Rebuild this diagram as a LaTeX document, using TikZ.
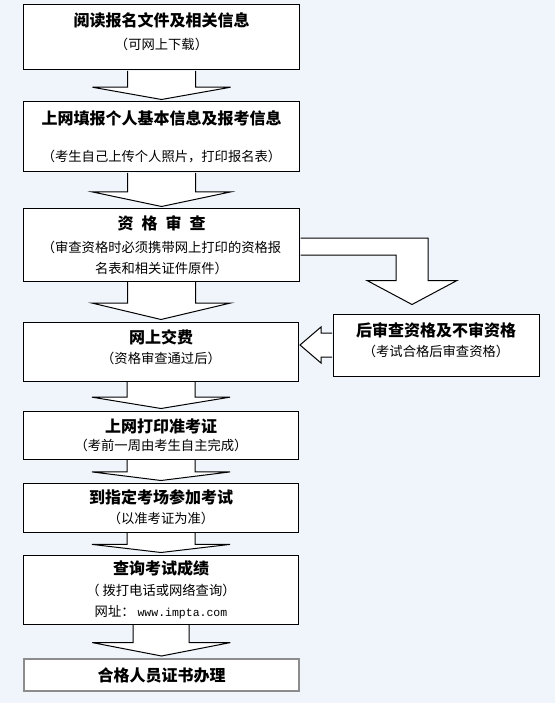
\documentclass[tikz,border=0pt]{standalone}
\usepackage{fontspec}
\setmainfont{Noto Sans CJK SC}
\setmonofont{Liberation Mono}
\usetikzlibrary{calc}
\definecolor{paper}{HTML}{F0F5FC}
\definecolor{frame}{HTML}{000000}
\definecolor{endframe}{HTML}{8C8C8C}
\newcommand{\headfont}{\bfseries\fontsize{16}{20}\selectfont}
\newcommand{\notefont}{\fontsize{13.3}{20}\selectfont}
% hollow block arrow from one box down to the next
\newcommand{\flowdown}[3]{%
  \draw[hollow] ($(#1.south)+(-#3,0.5)$) |- ($(#1.south)!0.54!(#2.north)+(-69,0)$)
    -- ($(#2.north)+(0,-2)$) -- ($(#1.south)!0.54!(#2.north)+(69,0)$) -| ($(#1.south)+(#3,0.5)$);}

\begin{document}
\begin{tikzpicture}[x=1pt,y=-1pt,
  flowbox/.style={draw=frame,line width=1pt,fill=white,minimum width=276pt,inner sep=0pt,align=center,font=\notefont},
  endbox/.style={flowbox,draw=endframe,line width=2pt},
  hollow/.style={draw=frame,line width=1pt,fill=white}]
  % Background
  \fill[paper] (0,0) rectangle (555,703);

  % Main steps
  \node[flowbox,minimum height=65pt] (read) at (161.5,37.5)
    {{\headfont 阅读报名文件及相关信息}\\[3pt]（可网上下载）\\[-8pt]\mbox{}};
  \node[flowbox,minimum height=70pt] (fill) at (161.5,137)
    {{\headfont 上网填报个人基本信息及报考信息}\\[17pt]（考生自己上传个人照片，打印报名表）};
  \node[flowbox,minimum height=72pt] (check) at (161.5,245)
    {{\headfont 资\hspace{0.5em}格\hspace{0.5em}审\hspace{0.5em}查}\\[3pt]（审查资格时必须携带网上打印的资格报\\[1pt]名表和相关证件原件）};
  \node[flowbox,minimum height=59pt,minimum width=275pt] (pay) at (161,351.5)
    {{\headfont 网上交费}\\（资格审查通过后）\\[-11pt]\mbox{}};
  \node[flowbox,minimum height=48pt,minimum width=275pt] (ticket) at (161,435)
    {{\headfont 上网打印准考证}\\[-2pt]（考前一周由考生自主完成）};
  \node[flowbox,minimum height=49pt,minimum width=275pt] (exam) at (161,507.5)
    {{\headfont 到指定考场参加考试}\\（以准考证为准）};
  \node[flowbox,minimum height=69pt,minimum width=275pt] (score) at (161,589.5)
    {{\headfont 查询考试成绩}\\[1pt]（ 拨打电话或网络查询）\\[1pt]网址： {\ttfamily\fontsize{11.5}{20}\selectfont www.impta.com}};
  \node[endbox,minimum height=32pt,minimum width=275pt] (cert) at (161.5,675)
    {{\headfont 合格人员证书办理}};

  % Side step
  \node[flowbox,minimum height=62pt,minimum width=206pt] (later) at (436,345)
    {{\headfont 后审查资格及不审资格}\\（考试合格后审查资格）\\[-10pt]\mbox{}};

  % Down arrows
  \flowdown{read}{fill}{34}
  \flowdown{fill}{check}{34}
  \flowdown{check}{pay}{34}
  \flowdown{pay}{ticket}{34}
  \flowdown{ticket}{exam}{34}
  \flowdown{exam}{score}{34}
  \flowdown{score}{cert}{28}

  % Branch to side step
  \coordinate (bend) at ($(later.north)+(-24,-9)$);
  \draw[hollow] ($(check.east)+(0.5,-7)$) -| ($(bend)+(16,-24)$) -- ++(29,0) -- (bend)
    -- ++(-45,-24) -- ++(29,0) |- ($(check.east)+(0.5,10)$);

  % Back to payment
  \draw[hollow] ($(later.west)+(-0.5,-12)$) -- ++(-11,0) -- ++(0,-6) -- ($(pay.east |- later.west)+(1,0)$)
    -- ($(later.west)+(-11.5,18)$) -- ++(0,-6) -- ($(later.west)+(-0.5,12)$);
\end{tikzpicture}
\end{document}
